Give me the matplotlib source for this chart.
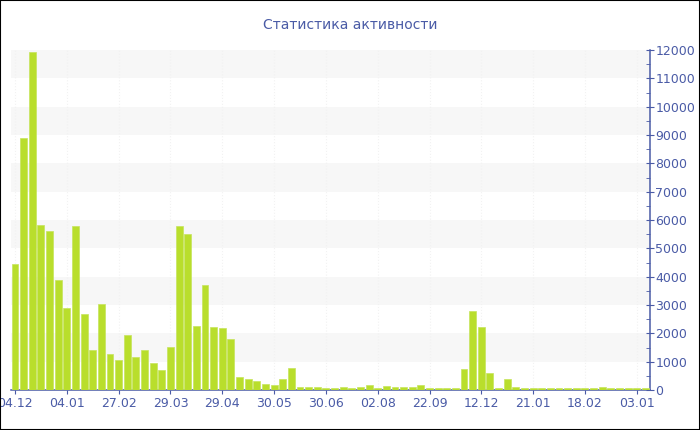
import numpy as np
import matplotlib.pyplot as plt
from matplotlib.patches import Rectangle

# activity per period
values = [4450, 8880, 11920, 5830, 5600, 3870, 2880, 5800, 2680, 1410,
          3020, 1280, 1070, 1930, 1180, 1420, 950, 710, 1510, 5800,
          5520, 2250, 3720, 2210, 2180, 1790, 470, 390, 320, 220,
          190, 380, 790, 100, 100, 100, 80, 80, 100, 80,
          90, 170, 80, 140, 90, 90, 100, 170, 60, 60,
          70, 70, 730, 2780, 2210, 600, 70, 400, 100, 60,
          60, 60, 60, 60, 60, 60, 60, 60, 90, 60,
          60, 60, 60, 60]
tick_labels = ['04.12', '04.01', '27.02', '29.03', '29.04', '30.05', '30.06',
               '02.08', '22.09', '12.12', '21.01', '18.02', '03.01']
label_step = 6

blue = '#4a5ba6'
green = '#b9de2c'

fig = plt.figure(figsize=(7, 4.3), dpi=100)
ax = fig.add_axes([10.7/700, 1-390/430, 639/700, 340/430])

# light grey bands
for lo in range(1000, 12000, 2000):
    ax.axhspan(lo, lo+1000, color='#f7f7f7', zorder=0, lw=0)

x = np.arange(len(values))
ax.bar(x, values, width=0.8, color=green, edgecolor='#c6e45c', linewidth=0.5, zorder=3)

tick_pos = x[::label_step][:len(tick_labels)]
for t in tick_pos:
    ax.axvline(t, color='#f2f2f2', lw=0.8, ls=':', zorder=1)

ax.set_xlim(-0.5, len(values)-0.5)
ax.set_ylim(0, 12000)
ax.set_xticks(tick_pos)
ax.set_xticklabels(tick_labels)
ax.set_yticks(np.arange(0, 12001, 1000))
ax.set_yticks(np.arange(500, 12000, 1000), minor=True)
ax.yaxis.tick_right()

for s in ['top', 'left']:
    ax.spines[s].set_visible(False)
for s in ['right', 'bottom']:
    ax.spines[s].set_color(blue)
    ax.spines[s].set_linewidth(1.1)
    ax.spines[s].set_zorder(2)

ax.tick_params(axis='y', which='major', direction='inout', length=6, color=blue,
               labelcolor=blue, labelsize=9, pad=1)
ax.tick_params(axis='y', which='minor', direction='in', length=3, color=blue)
ax.tick_params(axis='x', which='major', direction='out', length=3, color=blue,
               labelcolor=blue, labelsize=9, pad=2)

fig.text(0.5, 1-25/430, 'Статистика активности', ha='center', va='center',
         color=blue, fontsize=10)

fig.patches.append(Rectangle((0, 0), 1, 1, transform=fig.transFigure, fill=False,
                             edgecolor='black', linewidth=1.5))

fig.savefig('out.png', dpi=100)
